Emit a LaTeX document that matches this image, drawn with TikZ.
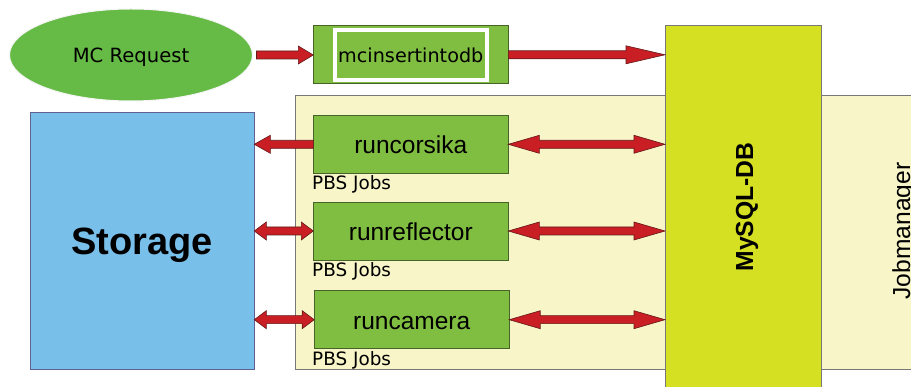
\documentclass[tikz,border=0pt]{standalone}
\usepackage{fontspec}
\setmainfont{Liberation Sans}
\newfontfamily\dvs{DejaVu Sans}
\usetikzlibrary{shapes.geometric,calc}
\definecolor{ellgreen}{RGB}{102,187,70}
\definecolor{boxgreen}{RGB}{128,190,65}
\definecolor{boxedge}{RGB}{70,100,40}
\definecolor{jmyellow}{RGB}{248,246,200}
\definecolor{dbyellow}{RGB}{213,224,34}
\definecolor{stblue}{RGB}{120,191,234}
\definecolor{arrowred}{RGB}{200,30,36}
\definecolor{arrowdark}{RGB}{100,25,25}
\definecolor{edgegray}{RGB}{120,120,120}
\tikzset{
  jobbox/.style={rectangle, fill=boxgreen, draw=boxedge, line width=0.8pt, inner sep=0pt, outer sep=0pt,
    minimum width=195pt, minimum height=58pt, text height=19pt, text depth=0pt,
    font=\fontsize{24.5}{28}\selectfont},
  pbslabel/.style={anchor=base west, inner sep=0pt, font=\dvs\fontsize{18.4}{22}\selectfont},
  fatarr/.style={fill=arrowred, draw=arrowdark, line width=0.6pt, line join=miter}
}
% right-pointing single arrow: #1 tail, #2 tip, #3 head length
\newcommand\fatR[3]{\filldraw[fatarr] let \p1=#1, \p2=#2 in
  (\x1,\y1+4pt) -- (\x2-#3pt,\y1+4pt) -- (\x2-#3pt,\y1+9pt) -- (\x2,\y1) --
  (\x2-#3pt,\y1-9pt) -- (\x2-#3pt,\y1-4pt) -- (\x1,\y1-4pt) -- cycle;}
% left-pointing single arrow: #1 tip (left), #2 tail (right), #3 head length
\newcommand\fatL[3]{\filldraw[fatarr] let \p1=#1, \p2=#2 in
  (\x2,\y1+4pt) -- (\x1+#3pt,\y1+4pt) -- (\x1+#3pt,\y1+9pt) -- (\x1,\y1) --
  (\x1+#3pt,\y1-9pt) -- (\x1+#3pt,\y1-4pt) -- (\x2,\y1-4pt) -- cycle;}
% double arrow: #1 left, #2 right, #3 head length
\newcommand\fatD[3]{\filldraw[fatarr] let \p1=#1, \p2=#2 in
  (\x1,\y1) -- (\x1+#3pt,\y1+9pt) -- (\x1+#3pt,\y1+4pt) -- (\x2-#3pt,\y1+4pt) --
  (\x2-#3pt,\y1+9pt) -- (\x2,\y1) -- (\x2-#3pt,\y1-9pt) -- (\x2-#3pt,\y1-4pt) --
  (\x1+#3pt,\y1-4pt) -- (\x1+#3pt,\y1-9pt) -- cycle;}
\begin{document}
\begin{tikzpicture}[x=1pt,y=-1pt]
\useasboundingbox[fill=white] (0,0) rectangle (911,387);
% Jobmanager background
\node[rectangle, fill=jmyellow, draw=edgegray, line width=0.8pt, inner sep=0pt, outer sep=0pt,
  minimum width=640pt, minimum height=274pt, anchor=north west] (jm) at (295.3,95) {};
\node[anchor=base, rotate=90, inner sep=0pt, font=\fontsize{24.6}{28}\selectfont] (jmlabel) at (910,231) {Jobmanager};
% Storage
\node[rectangle, fill=stblue, draw=edgegray!80!blue, line width=0.8pt, inner sep=0pt, outer sep=0pt,
  minimum width=224pt, minimum height=257pt, anchor=north west, text depth=0pt,
  font=\bfseries\fontsize{38}{44}\selectfont] (st) at (30.3,112.3) {Storage};
% MySQL-DB
\node[rectangle, fill=dbyellow, draw=edgegray, line width=0.8pt, inner sep=0pt, outer sep=0pt,
  minimum width=156pt, minimum height=375pt, anchor=north west] (db) at (665,25.3) {};
\node[anchor=base, rotate=90, inner sep=0pt, font=\bfseries\fontsize{24.7}{28}\selectfont] (dblabel) at (753,207) {MySQL-DB};
% MC Request
\node[ellipse, fill=ellgreen, draw=white!92!gray, line width=1pt, inner sep=0pt, outer sep=0pt,
  minimum width=243pt, minimum height=92pt, text depth=0pt, font=\dvs\fontsize{19.6}{23}\selectfont] (mcr) at (131,55) {MC Request};
% mcinsertintodb
\node[jobbox, text height=14.6pt, font=\dvs\fontsize{19.2}{23}\selectfont] (mcin) at (410.8,54.8) {mcinsertintodb};
\draw[white, line width=4pt] ($(mcin.center)+(-76,-25)$) rectangle ($(mcin.center)+(76,25)$);
% job boxes
\node[jobbox] (rc) at (410.8,144.3) {runcorsika};
\node[jobbox] (rr) at (410.8,231) {runreflector};
\node[jobbox] (rca) at (411.7,319.7) {runcamera};
\node[pbslabel] (pbs1) at (312,190) {PBS Jobs};
\node[pbslabel] (pbs2) at (312,277) {PBS Jobs};
\node[pbslabel] (pbs3) at (312,365.7) {PBS Jobs};
% arrows
\fatR{($(mcr.east)+(4,0)$)}{(mcin.west)}{15}
\fatR{(mcin.east)}{(mcin.east -| db.west)}{39}
\fatL{(rc.west -| st.east)}{(rc.west)}{16}
\fatD{(st.east |- rr.west)}{(rr.west)}{12}
\fatD{(st.east |- rca.west)}{(rca.west)}{12}
\fatD{(rc.east)}{(rc.east -| db.west)}{31}
\fatD{(rr.east)}{(rr.east -| db.west)}{31}
\fatD{(rca.east)}{(rca.east -| db.west)}{31}
\end{tikzpicture}
\end{document}
